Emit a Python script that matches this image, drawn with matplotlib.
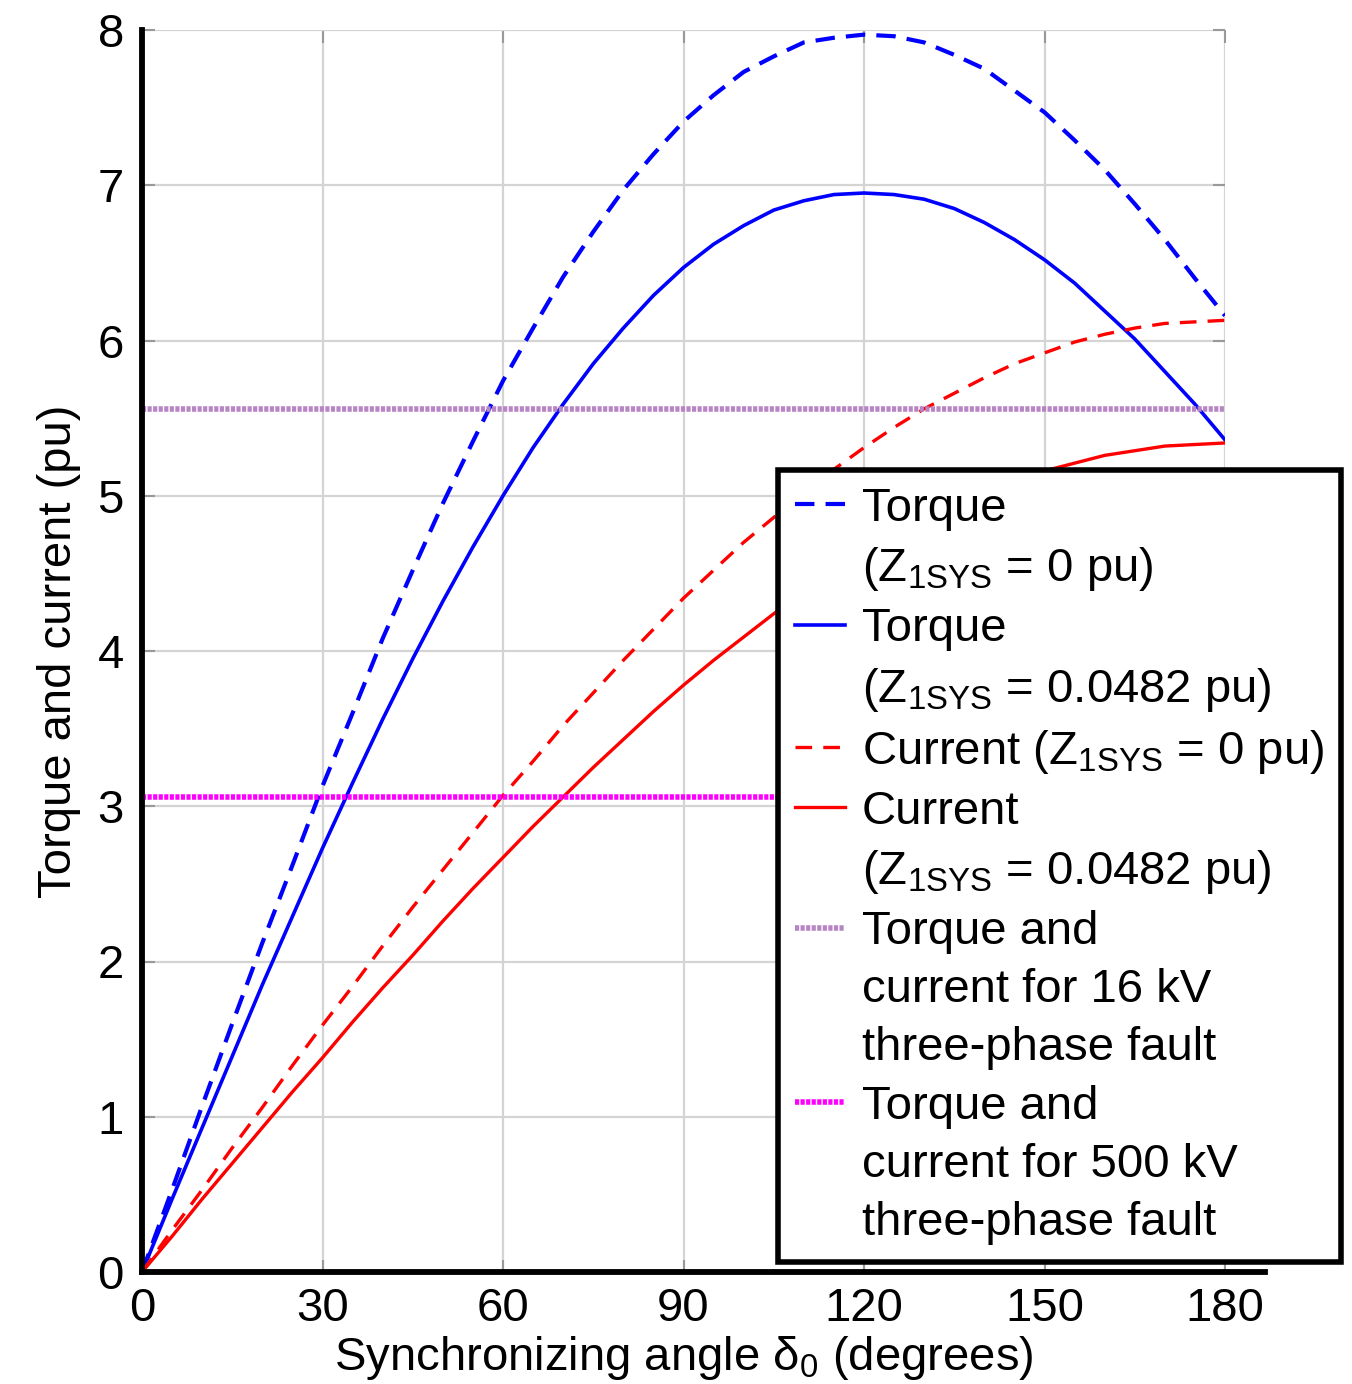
import numpy as np
import matplotlib
matplotlib.use('Agg')
import matplotlib.pyplot as plt
from matplotlib.lines import Line2D

plt.rcParams['font.family'] = ['Liberation Sans', 'DejaVu Sans']
plt.rcParams['mathtext.fontset'] = 'custom'
plt.rcParams['mathtext.rm'] = 'Liberation Sans'
plt.rcParams['mathtext.it'] = 'Liberation Sans:italic'
plt.rcParams['lines.scale_dashes'] = False

# valores (passo de 5 graus)
angulo = [0, 5, 10, 15, 20, 25, 30, 35, 40, 45, 50, 55, 60, 65, 70, 75, 80, 85, 90,
          95, 100, 105, 110, 115, 120, 125, 130, 135, 140, 145, 150, 155, 160, 165, 170, 175, 180]
torque_z0 = [0, 0.53, 1.07, 1.60, 2.12, 2.62, 3.13, 3.60, 4.08, 4.52, 4.95, 5.35, 5.74, 6.08, 6.41,
             6.70, 6.97, 7.20, 7.41, 7.58, 7.73, 7.83, 7.92, 7.95, 7.97, 7.96, 7.92, 7.84, 7.75,
             7.61, 7.47, 7.29, 7.10, 6.88, 6.65, 6.40, 6.16]
torque_z482 = [0, 0.47, 0.93, 1.39, 1.85, 2.29, 2.73, 3.15, 3.56, 3.95, 4.32, 4.67, 5.00, 5.31, 5.59,
               5.85, 6.08, 6.29, 6.47, 6.62, 6.74, 6.84, 6.90, 6.94, 6.95, 6.94, 6.91, 6.85, 6.76,
               6.65, 6.52, 6.37, 6.19, 6.01, 5.80, 5.59, 5.36]
corrente_z0 = [0, 0.27, 0.53, 0.80, 1.06, 1.33, 1.59, 1.84, 2.10, 2.35, 2.59, 2.83, 3.07, 3.29, 3.52,
               3.73, 3.94, 4.14, 4.34, 4.52, 4.70, 4.86, 5.02, 5.17, 5.31, 5.44, 5.56, 5.66, 5.76,
               5.85, 5.92, 5.99, 6.04, 6.08, 6.11, 6.12, 6.13]
corrente_z482 = [0, 0.23, 0.47, 0.70, 0.93, 1.16, 1.38, 1.61, 1.83, 2.04, 2.26, 2.47, 2.67, 2.87, 3.06,
                 3.25, 3.43, 3.61, 3.78, 3.94, 4.09, 4.24, 4.37, 4.50, 4.62, 4.74, 4.84, 4.93, 5.02,
                 5.09, 5.16, 5.21, 5.26, 5.29, 5.32, 5.33, 5.34]
falta_16kv = 5.56
falta_500kv = 3.06

xticks = [0, 30, 60, 90, 120, 150, 180]
yticks = [0, 1, 2, 3, 4, 5, 6, 7, 8]

fig = plt.figure(figsize=(13.52, 13.84), dpi=100)
ax = fig.add_axes([142/1352, 1 - 1272/1384, (1225 - 142)/1352, (1272 - 30)/1384])

azul = '#0000ff'
vermelho = '#ff0000'

l_td, = ax.plot(angulo, torque_z0, color=azul, lw=3.0, dashes=(14, 8))
l_ts, = ax.plot(angulo, torque_z482, color=azul, lw=2.6)
l_cd, = ax.plot(angulo, corrente_z0, color=vermelho, lw=2.4, dashes=(12, 8))
l_cs, = ax.plot(angulo, corrente_z482, color=vermelho, lw=2.4)
l_16 = ax.axhline(falta_16kv, color='#b784c4', lw=4, dashes=(3, 1))
l_500 = ax.axhline(falta_500kv, color='#ff00ff', lw=4, dashes=(3, 1))

ax.set_xlim(0, 180)
ax.set_ylim(0, 8)
ax.set_xticks(xticks)
ax.set_yticks(yticks)
ax.grid(True, color='#d4d4d4', lw=1.6)
ax.set_axisbelow(True)

for s in ['top', 'right']:
    ax.spines[s].set_visible(False)
ax.spines['left'].set_linewidth(4.2)
ax.spines['bottom'].set_linewidth(4.2)
ax.spines['bottom'].set_bounds(0, 186.6)
ax.spines['bottom'].set_clip_on(False)

ax.tick_params(axis='both', labelsize=34, direction='in', length=9, width=1.5,
               color='#999999', top=True, right=True)
ax.tick_params(axis='y', pad=13)
ax.tick_params(axis='x', pad=11)

ax.set_xlabel(r'Synchronizing angle $\mathrm{\delta_0}$ (degrees)', fontsize=34, labelpad=2)
ax.set_ylabel('Torque and current (pu)', fontsize=34, labelpad=12)

vazio = Line2D([], [], color='none')
z = r'$\mathrm{_{1SYS}}$'
handles = [l_td, vazio, l_ts, vazio, l_cd, l_cs, vazio, l_16, vazio, vazio, l_500, vazio, vazio]
labels = ['Torque',
          '(Z' + z + ' = 0 pu)',
          'Torque',
          '(Z' + z + ' = 0.0482 pu)',
          'Current (Z' + z + ' = 0 pu)',
          'Current',
          '(Z' + z + ' = 0.0482 pu)',
          'Torque and',
          'current for 16 kV',
          'three-phase fault',
          'Torque and',
          'current for 500 kV',
          'three-phase fault']

leg = ax.legend(handles, labels, loc='lower left',
                bbox_to_anchor=(778/1352, 1 - 1262/1384), bbox_transform=fig.transFigure,
                fontsize=34, fancybox=False, edgecolor='black', framealpha=1,
                borderpad=0.36, labelspacing=0.3, handlelength=1.06,
                handletextpad=0.36, borderaxespad=0)
leg.get_frame().set_linewidth(4)

fig.savefig('out.png', dpi=100)
